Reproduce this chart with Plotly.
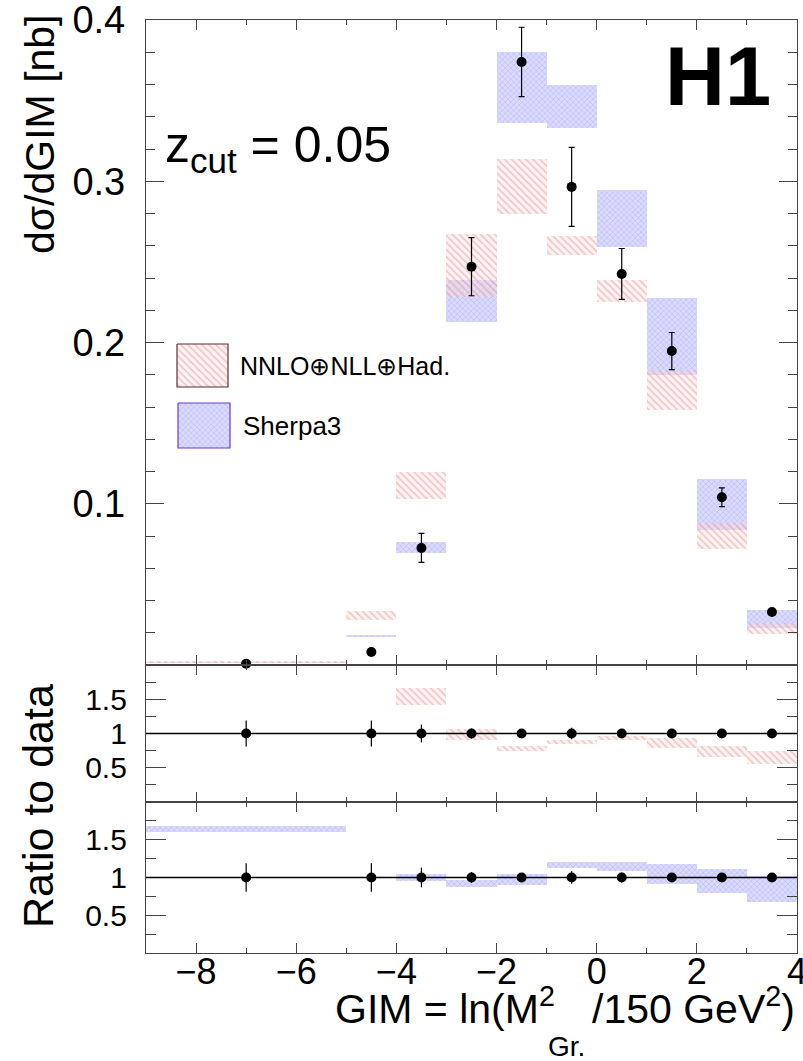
import plotly.graph_objects as go

# ---------------- data ----------------
bin_lo = [-9, -5, -4, -3, -2, -1, 0, 1, 2, 3]
bin_hi = [-5, -4, -3, -2, -1, 0, 1, 2, 3, 4]

data_val = [0.0008, 0.0081, 0.0726, 0.2470, 0.3740, 0.2965, 0.2425, 0.1947, 0.1040, 0.0329]
data_err = [0.0002, 0.0015, 0.0090, 0.0180, 0.0215, 0.0245, 0.0158, 0.0115, 0.0058, 0.0012]

nnlo_lo = [0.0010, 0.0280, 0.1030, 0.2280, 0.2800, 0.2540, 0.2250, 0.1580, 0.0720, 0.0190]
nnlo_hi = [0.0022, 0.0335, 0.1200, 0.2670, 0.3140, 0.2660, 0.2390, 0.1830, 0.0880, 0.0260]
sherpa_lo = [0.0010, 0.0175, 0.0695, 0.2130, 0.3360, 0.3330, 0.2590, 0.1800, 0.0837, 0.0230]
sherpa_hi = [0.0020, 0.0188, 0.0763, 0.2390, 0.3800, 0.3600, 0.2946, 0.2276, 0.1153, 0.0340]

ratio_data = [1, 1, 1, 1, 1, 1, 1, 1, 1, 1]
ratio_data_err = [0.19, 0.19, 0.13, 0.073, 0.057, 0.083, 0.065, 0.059, 0.056, 0.036]

nnlo_ratio_lo = [None, None, 1.41, 0.91, 0.74, 0.85, 0.91, 0.79, 0.66, 0.56]
nnlo_ratio_hi = [None, None, 1.66, 1.07, 0.82, 0.90, 0.97, 0.93, 0.82, 0.74]
sherpa_ratio_lo = [1.60, None, 0.96, 0.87, 0.90, 1.12, 1.08, 0.92, 0.80, 0.68]
sherpa_ratio_hi = [1.68, None, 1.05, 0.97, 1.04, 1.21, 1.21, 1.18, 1.11, 1.02]

top_ticks = [0.1, 0.2, 0.3, 0.4]
top_ticktext = ["0.1", "0.2", "0.3", "0.4"]
ratio_ticks = [0.5, 1, 1.5]
ratio_ticktext = ["0.5", "1", "1.5"]

label_nnlo = "NNLO⊕NLL⊕Had."
label_sherpa = "Sherpa3"

# ---------------- geometry ----------------
W_FIG, H_FIG = 803, 1061
L, R, T, B = 146, 797, 20, 953
PW, PH = R - L, B - T


def xp(px):
    return (px - L) / PW


def yp(py):
    return (B - py) / PH


centers = [(a + b) / 2 for a, b in zip(bin_lo, bin_hi)]
widths = [b - a for a, b in zip(bin_lo, bin_hi)]

FONT = "Liberation Sans, Arial, Helvetica, sans-serif"
AX = "#444444"

RED_PAT = dict(shape="\\", fgcolor="rgba(214,120,120,0.75)", bgcolor="rgba(250,225,225,0.45)",
               size=5, solidity=0.3)
BLUE_PAT = dict(shape="x", fgcolor="rgba(120,120,235,0.65)", bgcolor="rgba(200,200,255,0.65)",
                size=4, solidity=0.3)


def band(lo, hi, pat, xa, ya, name):
    xs, ys, bs, ws = [], [], [], []
    for c, w, a, b in zip(centers, widths, lo, hi):
        if a is None or b is None:
            continue
        xs.append(c)
        ws.append(w)
        bs.append(a)
        ys.append(b - a)
    return go.Bar(x=xs, y=ys, base=bs, width=ws, xaxis=xa, yaxis=ya, name=name,
                  marker=dict(color=pat["bgcolor"], line=dict(width=0), pattern=pat),
                  showlegend=False, hoverinfo="skip")


fig = go.Figure()

# top panel
fig.add_trace(band(sherpa_lo, sherpa_hi, BLUE_PAT, "x", "y", label_sherpa))
fig.add_trace(band(nnlo_lo, nnlo_hi, RED_PAT, "x", "y", label_nnlo))
fig.add_trace(go.Scatter(x=centers, y=data_val, mode="markers", xaxis="x", yaxis="y",
                         marker=dict(color="black", size=10),
                         error_y=dict(type="data", array=data_err, color="black", thickness=1.2, width=3),
                         cliponaxis=False, showlegend=False))

# middle ratio panel (NNLO)
fig.add_trace(band(nnlo_ratio_lo, nnlo_ratio_hi, RED_PAT, "x2", "y2", label_nnlo))
fig.add_trace(go.Scatter(x=centers, y=ratio_data, mode="markers", xaxis="x2", yaxis="y2",
                         marker=dict(color="black", size=10),
                         error_y=dict(type="data", array=ratio_data_err, color="black", thickness=1.2, width=0),
                         showlegend=False))

# bottom ratio panel (Sherpa)
fig.add_trace(band(sherpa_ratio_lo, sherpa_ratio_hi, BLUE_PAT, "x3", "y3", label_sherpa))
fig.add_trace(go.Scatter(x=centers, y=ratio_data, mode="markers", xaxis="x3", yaxis="y3",
                         marker=dict(color="black", size=10),
                         error_y=dict(type="data", array=ratio_data_err, color="black", thickness=1.2, width=0),
                         showlegend=False))

# legend swatches on a pixel-coordinate overlay axis
sw_red = (177, 228, 344, 387)
sw_blue = (178, 230, 403, 448)
for (x0, x1, y0, y1), pat, lc in [(sw_red, RED_PAT, "#5a3030"), (sw_blue, BLUE_PAT, "#6a3ad0")]:
    fig.add_trace(go.Scatter(x=[x0, x1, x1, x0, x0], y=[y0, y0, y1, y1, y0], mode="lines",
                             fill="toself", fillcolor=pat["bgcolor"], fillpattern=pat,
                             line=dict(color=lc, width=1.2), xaxis="x4", yaxis="y4",
                             showlegend=False, hoverinfo="skip"))

d_top = [yp(665), 1.0]
d_mid = [yp(802), yp(665)]
d_bot = [0.0, yp(802)]

common_x = dict(range=[-9, 4], showgrid=False, zeroline=False, showline=True, linecolor=AX,
                linewidth=1.3, mirror="ticks", ticks="inside", ticklen=10, tickwidth=1.2,
                tickcolor=AX, tick0=0, dtick=2, ticklabeloverflow="allow", automargin=False,
                minor=dict(ticks="inside", ticklen=5, tick0=0, dtick=1, tickcolor=AX, tickwidth=1.2),
                tickfont=dict(family=FONT, size=36, color="black"), domain=[0, 1])
common_y = dict(showgrid=False, zeroline=False, showline=True, linecolor=AX, linewidth=1.3,
                mirror="ticks", ticks="inside", tickwidth=1.2, tickcolor=AX, tickmode="array",
                ticklabelstandoff=12, ticklabeloverflow="allow", automargin=False)

fig.update_layout(
    width=W_FIG, height=H_FIG,
    margin=dict(l=L, r=W_FIG - R, t=T, b=H_FIG - B, autoexpand=False),
    paper_bgcolor="white", plot_bgcolor="rgba(0,0,0,0)",
    barmode="overlay", bargap=0, showlegend=False,
    font=dict(family=FONT, color="black"),
    xaxis=dict(common_x, anchor="y", showticklabels=False),
    xaxis2=dict(common_x, anchor="y2", showticklabels=False),
    xaxis3=dict(common_x, anchor="y3", showticklabels=True, ticklabelstandoff=-13),
    yaxis=dict(common_y, anchor="x", domain=d_top, range=[0, 0.4], tickvals=top_ticks,
               ticktext=top_ticktext, ticklen=18,
               minor=dict(ticks="inside", ticklen=9, tick0=0, dtick=0.02, tickcolor=AX, tickwidth=1.2),
               tickfont=dict(family=FONT, size=38, color="black")),
    yaxis2=dict(common_y, anchor="x2", domain=d_mid, range=[0, 2], tickvals=ratio_ticks,
                ticktext=ratio_ticktext, ticklen=20,
                minor=dict(ticks="inside", ticklen=10, tick0=0, dtick=0.25, tickcolor=AX, tickwidth=1.2),
                tickfont=dict(family=FONT, size=30, color="black")),
    yaxis3=dict(common_y, anchor="x3", domain=d_bot, range=[0, 2], tickvals=ratio_ticks,
                ticktext=ratio_ticktext, ticklen=20,
                minor=dict(ticks="inside", ticklen=10, tick0=0, dtick=0.25, tickcolor=AX, tickwidth=1.2),
                tickfont=dict(family=FONT, size=30, color="black")),
    xaxis4=dict(domain=[0, 1], range=[L, R], visible=False, anchor="y4", fixedrange=True, automargin=False),
    yaxis4=dict(domain=[0, 1], range=[B, T], visible=False, anchor="x4", fixedrange=True, automargin=False),
)

# reference lines at ratio = 1
for xr, yr in [("x2", "y2"), ("x3", "y3")]:
    fig.add_shape(type="line", xref=f"{xr} domain", yref=yr, x0=0, x1=1, y0=1, y1=1,
                  line=dict(color="black", width=1.3), layer="above")

ann = [
    dict(text="z<sub>cut</sub> = 0.05", x=xp(163), y=yp(148), xanchor="left", yanchor="middle",
         font=dict(size=50)),
    dict(text="<b>H1</b>", x=xp(773), y=yp(76), xanchor="right", yanchor="middle",
         font=dict(size=83)),
    dict(text="dσ/dGIM [nb]", x=xp(40), y=yp(12), xanchor="center", yanchor="top", textangle=-90,
         font=dict(size=41)),
    dict(text="Ratio to data", x=xp(38), y=yp(806), xanchor="center", yanchor="middle", textangle=-90,
         font=dict(size=43)),
    dict(text="/150 GeV<sup>2</sup>)", x=xp(797), y=yp(1034), xanchor="right", yanchor="bottom",
         font=dict(size=41)),
    dict(text="GIM = ln(M<sup>2</sup>", x=xp(557), y=yp(1034), xanchor="right", yanchor="bottom",
         font=dict(size=41)),
    dict(text="Gr.", x=xp(546), y=yp(1046), xanchor="left", yanchor="middle", font=dict(size=28)),
    dict(text=label_nnlo, x=xp(238), y=yp(366), xanchor="left", yanchor="middle", font=dict(size=25)),
    dict(text=label_sherpa, x=xp(241), y=yp(426), xanchor="left", yanchor="middle", font=dict(size=26)),
]
for a in ann:
    a.update(xref="paper", yref="paper", showarrow=False)
    a["font"] = dict(family=FONT, color="black", **a["font"])
    fig.add_annotation(**a)

fig.write_html("out.html")
